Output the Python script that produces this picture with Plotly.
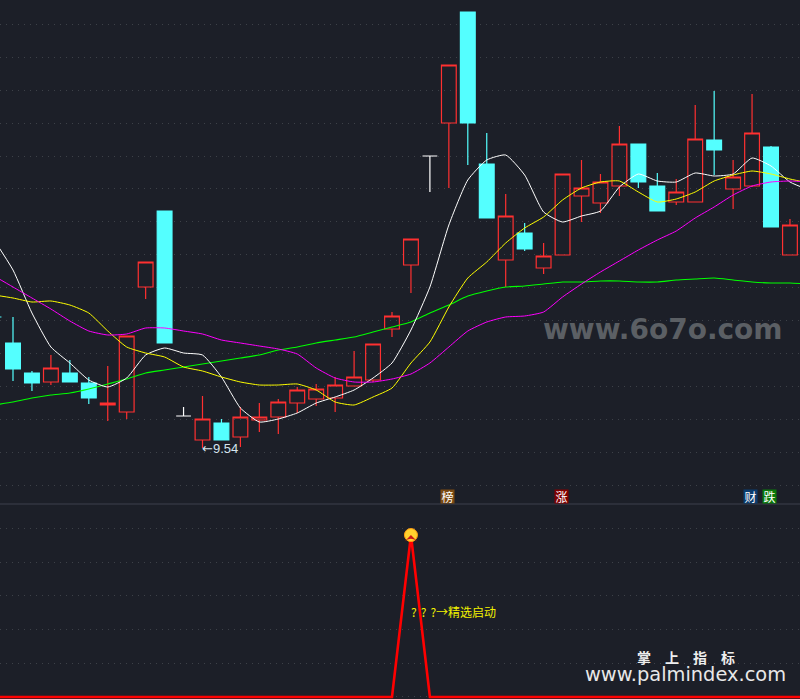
import plotly.graph_objects as go

# Candle positions (session index) and prices
sessions = list(range(-1, 42))
kinds = ["down", "down", "down", "up", "down", "down", "up", "up", "up", "down", "flat",
         "up", "down", "up", "up", "up", "up", "up", "up", "up", "up", "up", "up",
         "flat", "up", "down", "down", "up", "down", "up", "up", "up", "up", "up",
         "down", "down", "up", "up", "down", "up", "up", "down", "up"]
opens = [10.85, 10.59, 10.29, 10.20, 10.29, 10.19, 9.97, 9.90, 11.15, 11.91, 9.86,
         9.62, 9.79, 9.65, 9.82, 9.85, 9.99, 10.03, 10.04, 10.16, 10.22, 10.73, 11.37,
         12.46, 12.79, 13.90, 12.38, 11.42, 11.69, 11.34, 11.47, 12.06, 11.99, 12.16,
         12.58, 12.16, 12.00, 12.00, 12.62, 12.13, 12.16, 12.55, 11.47]
highs = [10.85, 10.85, 10.31, 10.47, 10.42, 10.25, 10.36, 10.66, 11.40, 11.91, 9.95,
         10.06, 9.83, 9.95, 9.99, 10.03, 10.15, 10.18, 10.25, 10.51, 10.58, 10.90, 11.63,
         12.46, 13.37, 13.90, 12.69, 12.08, 11.79, 11.59, 12.28, 12.42, 12.28, 12.76,
         12.58, 12.29, 12.23, 12.97, 13.11, 12.42, 13.08, 12.56, 11.83]
lows = [10.85, 10.21, 10.11, 10.17, 10.20, 9.98, 9.81, 9.83, 11.03, 10.59, 9.86,
        9.54, 9.62, 9.55, 9.70, 9.68, 9.89, 9.96, 9.90, 10.16, 10.20, 10.65, 11.09,
        12.10, 12.14, 12.37, 11.84, 11.15, 11.51, 11.28, 11.47, 11.80, 11.89, 12.06,
        12.14, 11.91, 11.97, 12.00, 12.27, 11.93, 12.15, 11.75, 11.47]
closes = [10.85, 10.33, 10.19, 10.34, 10.20, 10.04, 9.99, 10.66, 11.40, 10.59, 9.86,
          9.83, 9.62, 9.85, 9.85, 10.00, 10.12, 10.13, 10.17, 10.25, 10.58, 10.86, 11.63,
          12.46, 13.37, 12.79, 11.84, 11.86, 11.53, 11.46, 12.28, 12.14, 12.20, 12.58,
          12.20, 11.91, 12.10, 12.63, 12.52, 12.25, 12.69, 11.75, 11.77]

# Moving averages, one value per session from -1 to 42
ma_sessions = list(range(-1, 43))
ma_white = [11.62, 11.32, 10.89, 10.55, 10.39, 10.22, 10.15, 10.24, 10.47, 10.54, 10.49,
            10.47, 10.25, 9.94, 9.80, 9.83, 9.89, 9.99, 10.05, 10.12, 10.24, 10.39,
            10.72, 11.15, 11.77, 12.22, 12.42, 12.47, 12.27, 11.90, 11.80, 11.86,
            11.91, 12.15, 12.28, 12.21, 12.20, 12.29, 12.26, 12.28, 12.44, 12.36, 12.20, 12.12]
ma_yellow = [11.07, 11.04, 11.00, 11.01, 10.97, 10.89, 10.71, 10.55, 10.49, 10.45, 10.35,
             10.31, 10.25, 10.20, 10.17, 10.17, 10.18, 10.12, 10.00, 9.97, 10.05, 10.14,
             10.39, 10.60, 10.95, 11.24, 11.40, 11.59, 11.74, 11.85, 12.02, 12.14,
             12.20, 12.21, 12.10, 12.00, 12.03, 12.10, 12.21, 12.27, 12.31, 12.28, 12.23, 12.19]
ma_magenta = [11.26, 11.15, 11.04, 10.93, 10.81, 10.71, 10.67, 10.68, 10.74, 10.74, 10.71,
              10.68, 10.62, 10.59, 10.56, 10.53, 10.48, 10.34, 10.24, 10.20, 10.20, 10.23,
              10.28, 10.39, 10.55, 10.71, 10.80, 10.85, 10.86, 10.90, 11.05, 11.18,
              11.30, 11.41, 11.52, 11.62, 11.71, 11.84, 11.95, 12.07, 12.16, 12.20, 12.21, 12.20]
ma_green = [9.97, 10.00, 10.04, 10.07, 10.09, 10.13, 10.18, 10.23, 10.29, 10.32, 10.35,
            10.38, 10.41, 10.44, 10.47, 10.52, 10.55, 10.59, 10.62, 10.65, 10.70, 10.75,
            10.80, 10.89, 10.97, 11.06, 11.11, 11.15, 11.16, 11.18, 11.20, 11.20,
            11.21, 11.21, 11.20, 11.20, 11.22, 11.23, 11.24, 11.22, 11.20, 11.19, 11.19, 11.18]

# Lower indicator pane
signal_sessions = [-1, 20, 21, 22, 42]
signal_values = [0, 0, 96, 0, 0]
signal_peak_session = [21]
signal_peak_value = [96]

# Text labels
low_label = '<span style="font-family:DejaVu Sans">←</span>9.54'
signal_label = "?\u2004?\u2004?→精选启动"
badges = [("榜", 23, "#7a4a12"), ("涨", 29, "#800000"), ("财", 39, "#0a3c6e"), ("跌", 40, "#0a7a0a")]

BG = "#1c1f28"
RED = "#ff3030"
CYAN = "#54ffff"
GRID = "#3d4148"
W, H = 800, 699
PANE = 504


def px(y):
    return 1 - y / H


def candle_trace(kind, color, fill):
    idx = [i for i, k in enumerate(kinds) if k == kind]
    return go.Candlestick(
        x=[sessions[i] for i in idx],
        open=[opens[i] for i in idx],
        high=[highs[i] for i in idx],
        low=[lows[i] for i in idx],
        close=[closes[i] for i in idx],
        whiskerwidth=0,
        increasing=dict(line=dict(color=color, width=1.2), fillcolor=fill),
        decreasing=dict(line=dict(color=color, width=1.2), fillcolor=fill),
        showlegend=False, hoverinfo="skip",
    )


def ma_trace(values, color, width=1.0):
    return go.Scatter(x=ma_sessions, y=values, mode="lines",
                      line=dict(color=color, width=width, shape="spline", smoothing=0.5),
                      showlegend=False, hoverinfo="skip")


fig = go.Figure()
fig.add_trace(candle_trace("up", RED, "rgba(0,0,0,0)"))
fig.add_trace(candle_trace("down", CYAN, CYAN))
fig.add_trace(candle_trace("flat", "#ffffff", "#ffffff"))
fig.add_trace(ma_trace(ma_green, "#00ff00", 1.1))
fig.add_trace(ma_trace(ma_white, "#ffffff"))
fig.add_trace(ma_trace(ma_yellow, "#ffff00"))
fig.add_trace(ma_trace(ma_magenta, "#ff00ff"))

fig.add_trace(go.Scatter(x=signal_sessions, y=signal_values, mode="lines", xaxis="x2", yaxis="y2",
                         line=dict(color="#ff0000", width=2.6), showlegend=False, hoverinfo="skip"))
fig.add_trace(go.Scatter(x=signal_peak_session, y=signal_peak_value, mode="markers", xaxis="x2", yaxis="y2",
                         marker=dict(size=13, color="#ffd22e", symbol="circle",
                                     line=dict(color="#ff9a10", width=1)),
                         showlegend=False, hoverinfo="skip"))
fig.add_trace(go.Scatter(x=signal_peak_session, y=signal_peak_value, mode="markers", xaxis="x2", yaxis="y2",
                         marker=dict(size=9, color="#c81818", symbol="arrow-wide"),
                         showlegend=False, hoverinfo="skip"))

XR = [-0.686, 41.53]
YR = [8.98, 14.02]
fig.update_layout(
    width=W, height=H,
    margin=dict(l=0, r=0, t=0, b=0, pad=0),
    paper_bgcolor=BG, plot_bgcolor=BG,
    boxgap=0.22, boxgroupgap=0, boxmode="overlay",
    xaxis=dict(range=XR, domain=[0, 1], anchor="y", visible=False, fixedrange=True,
               rangeslider=dict(visible=False)),
    xaxis2=dict(range=XR, domain=[0, 1], anchor="y2", visible=False, fixedrange=True),
    yaxis=dict(domain=[px(PANE), 1], anchor="x", range=YR, tick0=9.17, dtick=0.329, showgrid=True,
               gridcolor=GRID, griddash="1px,5px", gridwidth=1, showticklabels=False,
               zeroline=False, fixedrange=True),
    yaxis2=dict(domain=[0, px(505)], anchor="x2", range=[-1.2, 113.8], tick0=0, dtick=20, showgrid=True,
                gridcolor=GRID, griddash="1px,5px", gridwidth=1, showticklabels=False,
                zeroline=False, fixedrange=True),
    shapes=[dict(type="line", xref="paper", yref="paper", x0=0, x1=1, y0=px(504), y1=px(504),
                 line=dict(color="#3c404c", width=1))],
)

CJK = "Noto Sans CJK SC"
ann = []
ann.append(dict(text=low_label, xref="x", yref="y", x=10, y=9.54, xanchor="left", yanchor="middle",
                xshift=-3, showarrow=False, font=dict(family="Liberation Sans", size=13, color="#d6e4ee")))
ann.append(dict(text=signal_label, xref="x2", yref="paper", x=21, y=px(611.5), xanchor="left", yanchor="middle",
                xshift=-2, showarrow=False, font=dict(family=CJK, size=12, color="#f2f200")))
for ch, s, col in badges:
    ann.append(dict(text=ch, xref="x", yref="paper", x=s, y=px(496.5), xanchor="center", yanchor="middle",
                    xshift=-1.5, showarrow=False, bgcolor=col, width=13, height=13, borderpad=0,
                    font=dict(family=CJK, size=12, color="#ffffff")))
ann.append(dict(text="www.6o7o.com", xref="paper", yref="paper", x=541 / W, y=px(329), xanchor="left",
                yanchor="middle", showarrow=False,
                font=dict(family="DejaVu Sans", size=28, color="#5b5f64", weight="bold")))
ann.append(dict(text="掌\u2003上\u2003指\u2003标", xref="paper", yref="paper", x=686 / W, y=px(657), xanchor="center",
                yanchor="middle", showarrow=False,
                font=dict(family=CJK, size=14, color="#eeeeee", weight="bold")))
ann.append(dict(text="www.palmindex.com", xref="paper", yref="paper", x=685 / W, y=px(674), xanchor="center",
                yanchor="middle", showarrow=False,
                font=dict(family="DejaVu Sans", size=19.4, color="#e8e8e8")))
fig.update_layout(annotations=ann)

fig.write_html("out.html", config={"displayModeBar": False},
               post_script="document.body.style.margin='0';document.body.style.background='#1c1f28';")
